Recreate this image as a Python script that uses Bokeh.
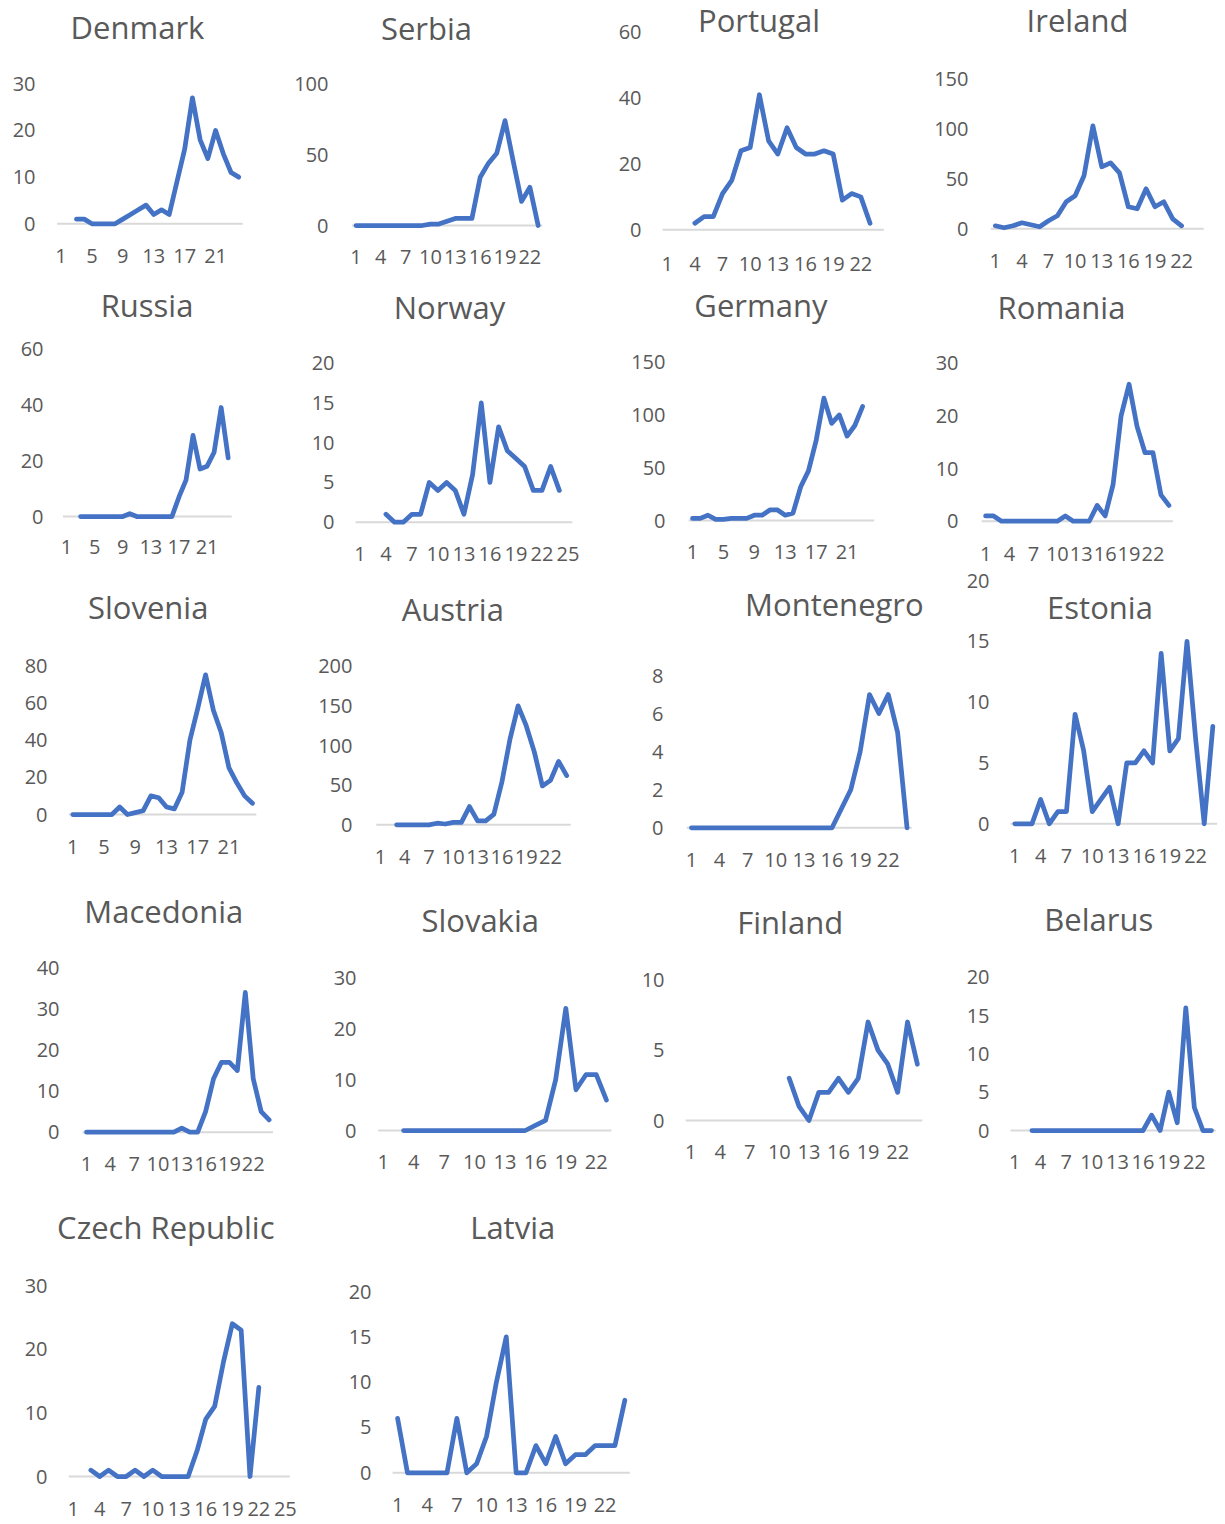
from bokeh.plotting import figure
from bokeh.models import Range1d, FixedTicker, Label
from bokeh.layouts import row, column
from bokeh.embed import file_html
from bokeh.resources import INLINE

# ---------------- data (weekly values, category index 1..N) ----------------
denmark    = [None, None, 1, 1, 0, 0, 0, 0, 1, 2, 3, 4, 2, 3, 2, 9, 16, 27, 18, 14, 20, 15, 11, 10]
serbia     = [0, 0, 0, 0, 0, 0, 0, 0, 0, 1, 1, 3, 5, 5, 5, 34, 44, 51, 74, 45, 17, 27, 0]
portugal   = [None, None, None, 2, 4, 4, 11, 15, 24, 25, 41, 27, 23, 31, 25, 23, 23, 24, 23, 9, 11, 10, 2, None]
ireland    = [3, 1, 3, 6, 4, 2, 8, 13, 27, 33, 53, 103, 62, 66, 56, 22, 20, 40, 22, 27, 10, 3, None, None]
russia     = [None, None, 0, 0, 0, 0, 0, 0, 0, 1, 0, 0, 0, 0, 0, 0, 7, 13, 29, 17, 18, 23, 39, 21]
norway     = [None, None, None, 1, 0, 0, 1, 1, 5, 4, 5, 4, 1, 6, 15, 5, 12, 9, 8, 7, 4, 4, 7, 4, None]
germany    = [2, 2, 5, 1, 1, 2, 2, 2, 5, 5, 10, 10, 5, 7, 32, 47, 76, 116, 92, 100, 80, 90, 108, None]
romania    = [1, 1, 0, 0, 0, 0, 0, 0, 0, 0, 1, 0, 0, 0, 3, 1, 7, 20, 26, 18, 13, 13, 5, 3]
slovenia   = [0, 0, 0, 0, 0, 0, 4, 0, 1, 2, 10, 9, 4, 3, 12, 40, 57, 75, 56, 44, 25, 17, 10, 6]
austria    = [None, None, 0, 0, 0, 0, 0, 2, 1, 3, 3, 23, 5, 5, 13, 54, 108, 150, 125, 92, 49, 56, 80, 62]
montenegro = [0, 0, 0, 0, 0, 0, 0, 0, 0, 0, 0, 0, 0, 0, 0, 0, 1, 2, 4, 7, 6, 7, 5, 0]
estonia    = [0, 0, 0, 2, 0, 1, 1, 9, 6, 1, 2, 3, 0, 5, 5, 6, 5, 14, 6, 7, 15, 7, 0, 8]
macedonia  = [0, 0, 0, 0, 0, 0, 0, 0, 0, 0, 0, 0, 1, 0, 0, 5, 13, 17, 17, 15, 34, 13, 5, 3]
slovakia   = [None, None, 0, 0, 0, 0, 0, 0, 0, 0, 0, 0, 0, 0, 0, 1, 2, 10, 24, 8, 11, 11, 6]
finland    = [None, None, None, None, None, None, None, None, None, None, 3, 1, 0, 2, 2, 3, 2, 3, 7, 5, 4, 2, 7, 4]
belarus    = [None, None, 0, 0, 0, 0, 0, 0, 0, 0, 0, 0, 0, 0, 0, 0, 2, 0, 5, 1, 16, 3, 0, 0]
czech      = [None, None, 1, 0, 1, 0, 0, 1, 0, 1, 0, 0, 0, 0, 4, 9, 11, 18, 24, 23, 0, 14, None, None, None]
latvia     = [6, 0, 0, 0, 0, 0, 6, 0, 1, 4, 10, 15, 0, 0, 3, 1, 4, 1, 2, 2, 3, 3, 3, 8]

series = {
    "Denmark": denmark, "Serbia": serbia, "Portugal": portugal, "Ireland": ireland,
    "Russia": russia, "Norway": norway, "Germany": germany, "Romania": romania,
    "Slovenia": slovenia, "Austria": austria, "Montenegro": montenegro, "Estonia": estonia,
    "Macedonia": macedonia, "Slovakia": slovakia, "Finland": finland, "Belarus": belarus,
    "Czech Republic": czech, "Latvia": latvia,
}

# category tick label step (Excel auto-skip)
x_label_step = {
    "Denmark": 4, "Serbia": 3, "Portugal": 3, "Ireland": 3,
    "Russia": 4, "Norway": 3, "Germany": 4, "Romania": 3,
    "Slovenia": 4, "Austria": 3, "Montenegro": 3, "Estonia": 3,
    "Macedonia": 3, "Slovakia": 3, "Finland": 3, "Belarus": 3,
    "Czech Republic": 3, "Latvia": 3,
}

# value-axis tick labels
y_tick_labels = {
    "Denmark": [0, 10, 20, 30], "Serbia": [0, 50, 100], "Portugal": [0, 20, 40, 60],
    "Ireland": [0, 50, 100, 150], "Russia": [0, 20, 40, 60], "Norway": [0, 5, 10, 15, 20],
    "Germany": [0, 50, 100, 150], "Romania": [0, 10, 20, 30], "Slovenia": [0, 20, 40, 60, 80],
    "Austria": [0, 50, 100, 150, 200], "Montenegro": [0, 2, 4, 6, 8], "Estonia": [0, 5, 10, 15, 20],
    "Macedonia": [0, 10, 20, 30, 40], "Slovakia": [0, 10, 20, 30], "Finland": [0, 5, 10],
    "Belarus": [0, 5, 10, 15, 20], "Czech Republic": [0, 10, 20, 30], "Latvia": [0, 5, 10, 15, 20],
}

# ---------------- layout (page pixels) ----------------
# cell = (left, right); x1 = pixel of category 1; d = px per category;
# y0 = pixel of value 0; yt = pixel of top tick; lr = right edge of y labels;
# title = (centre x, cap-centre y); xly = centre y of x labels
GEOM = {
    "Denmark":    dict(cell=(0, 270),    x1=60.5,   d=7.73,  y0=223.3,  yt=83.3,   lr=35,    title=(137, 28),      xly=255),
    "Serbia":     dict(cell=(270, 590),  x1=355.5,  d=8.28,  y0=225,    yt=83.3,   lr=328,   title=(426, 28.5),    xly=256.7),
    "Portugal":   dict(cell=(590, 910),  x1=666.7,  d=9.22,  y0=229.3,  yt=31.7,   lr=641,   title=(758.5, 21),    xly=263),
    "Ireland":    dict(cell=(910, 1222), x1=994.8,  d=8.87,  y0=228.3,  yt=78.3,   lr=967.5, title=(1077, 21),     xly=260),
    "Russia":     dict(cell=(0, 270),    x1=66,     d=7.03,  y0=516,    yt=348.3,  lr=43,    title=(146.5, 305.8), xly=546.7),
    "Norway":     dict(cell=(270, 600),  x1=359.4,  d=8.67,  y0=521.7,  yt=362.7,  lr=334,   title=(449, 308.3),   xly=553.3),
    "Germany":    dict(cell=(600, 905),  x1=692,    d=7.73,  y0=520,    yt=361.7,  lr=664.7, title=(760.4, 305.8), xly=551.7),
    "Romania":    dict(cell=(905, 1222), x1=985.1,  d=7.97,  y0=520.7,  yt=362.7,  lr=957.7, title=(1061, 307.7),  xly=553.3),
    "Slovenia":   dict(cell=(0, 290),    x1=72.3,   d=7.81,  y0=814,    yt=665,    lr=46.9,  title=(147.7, 608.3), xly=846.7),
    "Austria":    dict(cell=(290, 610),  x1=379.9,  d=8.1,   y0=824.3,  yt=665.7,  lr=351.6, title=(452.3, 610.3), xly=856.7),
    "Montenegro": dict(cell=(610, 945),  x1=690.9,  d=9.375, y0=827.3,  yt=675,    lr=662.8, title=(833.9, 605),   xly=860),
    "Estonia":    dict(cell=(945, 1222), x1=1014.3, d=8.61,  y0=823.3,  yt=580,    lr=989,   title=(1099.5, 608.3), xly=855),
    "Macedonia":  dict(cell=(0, 300),    x1=86,     d=7.94,  y0=1131.7, yt=967.3,  lr=58.6,  title=(163.3, 911.7), xly=1163.3),
    "Slovakia":   dict(cell=(300, 625),  x1=382.8,  d=10.14, y0=1130,   yt=977.3,  lr=356,   title=(479.7, 921),   xly=1161.7),
    "Finland":    dict(cell=(625, 945),  x1=690.1,  d=9.86,  y0=1120,   yt=979.3,  lr=663.6, title=(789.7, 923.3), xly=1151.7),
    "Belarus":    dict(cell=(945, 1222), x1=1014.3, d=8.55,  y0=1130,   yt=976.7,  lr=989,   title=(1098.3, 919.5), xly=1161.7),
    "Czech Republic": dict(cell=(0, 320), x1=72.7,  d=8.84,  y0=1476,   yt=1285,   lr=47,    title=(165.3, 1228.3), xly=1508.3),
    "Latvia":     dict(cell=(320, 660),  x1=397.1,  d=9.88,  y0=1472.3, yt=1291,   lr=371.4, title=(512.2, 1227.8), xly=1505),
}

ROWS = [
    ((0, 280),     ["Denmark", "Serbia", "Portugal", "Ireland"]),
    ((280, 566),   ["Russia", "Norway", "Germany", "Romania"]),
    ((566, 874),   ["Slovenia", "Austria", "Montenegro", "Estonia"]),
    ((874, 1180),  ["Macedonia", "Slovakia", "Finland", "Belarus"]),
    ((1180, 1522), ["Czech Republic", "Latvia"]),
]

FONT = "Open Sans"
TXT = "#595959"
BLUE = "#4472C4"
GRAY = "#D9D9D9"
TICK_FS = 20
TITLE_FS = 31


def make_panel(name, band):
    g = GEOM[name]
    vals = series[name]
    n = len(vals)
    cats = list(range(1, n + 1))
    ys = [float("nan") if v is None else v for v in vals]
    yticks = y_tick_labels[name]
    vt = yticks[-1]

    cx0, cx1 = g["cell"]
    cy0, cy1 = band
    W, H = cx1 - cx0, cy1 - cy0
    fl = int(round(g["lr"] + 5))
    fr = cx1
    ft = cy0
    fb = int(round(g["y0"] + 5))
    d, x1 = g["d"], g["x1"]
    ppu = (g["y0"] - g["yt"]) / vt

    def px_x(px):
        return 1 + (px - x1) / d

    def px_y(py):
        return (g["y0"] - py) / ppu

    p = figure(width=W, height=H,
               x_range=Range1d(px_x(fl), px_x(fr)),
               y_range=Range1d(px_y(fb), px_y(ft)),
               toolbar_location=None, tools="", output_backend="svg",
               frame_align=False,
               min_border_left=fl - cx0, min_border_right=cx1 - fr,
               min_border_top=ft - cy0, min_border_bottom=cy1 - fb)
    p.outline_line_color = None
    p.background_fill_color = "white"
    p.border_fill_color = "white"
    p.xgrid.visible = False
    p.ygrid.visible = False

    xly = min(g["xly"], cy1 - 12)
    xa = p.xaxis[0]
    xa.ticker = FixedTicker(ticks=cats[::x_label_step[name]])
    xa.axis_line_color = None
    xa.major_tick_line_color = None
    xa.minor_tick_line_color = None
    xa.major_tick_in = 0
    xa.major_tick_out = 0
    xa.major_label_text_font = FONT
    xa.major_label_text_font_size = f"{TICK_FS}px"
    xa.major_label_text_color = TXT
    xa.major_label_standoff = max(0, int(round(xly - 7.5 - fb)))

    ya = p.yaxis[0]
    ya.ticker = FixedTicker(ticks=yticks)
    ya.axis_line_color = None
    ya.major_tick_line_color = None
    ya.minor_tick_line_color = None
    ya.major_tick_in = 0
    ya.major_tick_out = 0
    ya.major_label_text_font = FONT
    ya.major_label_text_font_size = f"{TICK_FS}px"
    ya.major_label_text_color = TXT
    ya.major_label_standoff = int(round(fl - g["lr"]))

    # category axis baseline
    p.segment(x0=[0.5], y0=[0], x1=[n + 0.5], y1=[0], line_color=GRAY, line_width=2)
    # series
    p.line(cats, ys, line_color=BLUE, line_width=4.75, line_join="round", line_cap="round")

    tx, ty = g["title"]
    p.add_layout(Label(x=px_x(tx), y=px_y(ty - 1.5), text=name,
                       text_align="center", text_baseline="alphabetic",
                       text_font=FONT, text_font_size=f"{TITLE_FS}px", text_color=TXT))
    return p


rows = []
for band, names in ROWS:
    rows.append(row(*[make_panel(nm, band) for nm in names]))
layout = column(*rows)

open("out.html", "w").write(file_html(layout, INLINE))
